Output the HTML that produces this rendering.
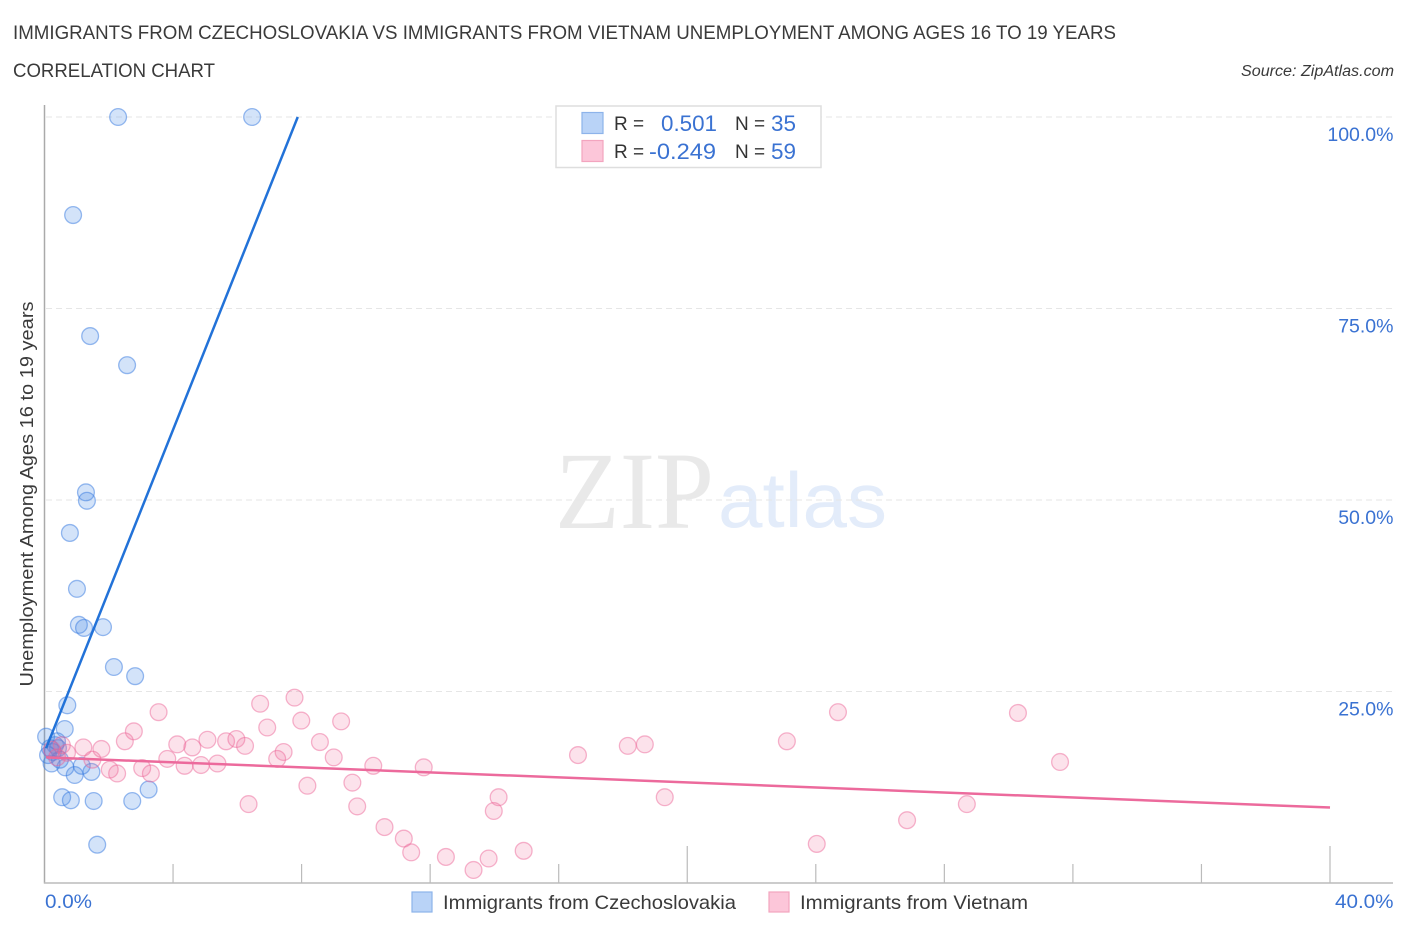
<!DOCTYPE html>
<html lang="en">
<head>
<meta charset="utf-8">
<title>Immigrants from Czechoslovakia vs Immigrants from Vietnam Unemployment Correlation Chart</title>
<style>
  html,body{margin:0;padding:0;background:#fff;width:1406px;height:930px;overflow:hidden}
  svg{display:block}
  text{font-family:"Liberation Sans",sans-serif}
</style>
</head>
<body>
<svg id="chart" width="1406" height="930" viewBox="0 0 1406 930" xmlns="http://www.w3.org/2000/svg">
  <rect x="0" y="0" width="1406" height="930" fill="#fff"/>
  <text x="13" y="39" font-size="19.5" fill="#3a3a3a" textLength="1103" lengthAdjust="spacingAndGlyphs">IMMIGRANTS FROM CZECHOSLOVAKIA VS IMMIGRANTS FROM VIETNAM UNEMPLOYMENT AMONG AGES 16 TO 19 YEARS</text>
  <text x="13" y="77" font-size="19.5" fill="#3a3a3a" textLength="202" lengthAdjust="spacingAndGlyphs">CORRELATION CHART</text>
  <text x="1241" y="76" font-size="15.5" font-style="italic" fill="#3a3a3a" textLength="153" lengthAdjust="spacingAndGlyphs">Source: ZipAtlas.com</text>

  <g>
    <text x="555" y="528" font-size="110" fill="#e9e9e9" textLength="159" lengthAdjust="spacingAndGlyphs" style="font-family:'Liberation Serif',serif">ZIP</text>
    <text x="718" y="527" font-size="78" fill="#e3ecfa" textLength="169" lengthAdjust="spacingAndGlyphs">atlas</text>
  </g>

  <g id="grid"></g>
  <g id="axes"></g>
  <g id="points"></g>
  <g id="trends"></g>

  <text transform="translate(33 494) rotate(-90)" text-anchor="middle" font-size="18.5" fill="#3a3a3a" textLength="385" lengthAdjust="spacingAndGlyphs">Unemployment Among Ages 16 to 19 years</text>

  <g>
    <rect x="556" y="106" width="265" height="61.5" fill="#fff" stroke="#dedede" stroke-width="1.5"/>
    <rect x="582" y="112.5" width="21" height="21" fill="#b9d3f7" stroke="#8db3ea" stroke-width="1.2"/>
    <rect x="582" y="140.5" width="21" height="21" fill="#fcc6d9" stroke="#f3a5bf" stroke-width="1.2"/>
    <text x="614" y="130" font-size="19" fill="#333">R =</text>
    <text x="661" y="131" font-size="22" fill="#3a72d2" textLength="56" lengthAdjust="spacingAndGlyphs">0.501</text>
    <text x="735" y="130" font-size="19" fill="#333">N =</text>
    <text x="771" y="131" font-size="22" fill="#3a72d2" textLength="25" lengthAdjust="spacingAndGlyphs">35</text>
    <text x="614" y="158" font-size="19" fill="#333">R =</text>
    <text x="649" y="159" font-size="22" fill="#3a72d2" textLength="67" lengthAdjust="spacingAndGlyphs">-0.249</text>
    <text x="735" y="158" font-size="19" fill="#333">N =</text>
    <text x="771" y="159" font-size="22" fill="#3a72d2" textLength="25" lengthAdjust="spacingAndGlyphs">59</text>
  </g>

  <g>
    <rect x="412" y="892" width="20" height="20" fill="#b9d3f7" stroke="#8db3ea" stroke-width="1.2"/>
    <text x="443" y="909" font-size="19.5" fill="#3a3a3a" textLength="293" lengthAdjust="spacingAndGlyphs">Immigrants from Czechoslovakia</text>
    <rect x="769" y="892" width="20" height="20" fill="#fcc6d9" stroke="#f3a5bf" stroke-width="1.2"/>
    <text x="800" y="909" font-size="19.5" fill="#3a3a3a" textLength="228" lengthAdjust="spacingAndGlyphs">Immigrants from Vietnam</text>
  </g>
</svg>

<script>
var yTickValues = [25, 50, 75, 100];
var yTickLabels = ['25.0%', '50.0%', '75.0%', '100.0%'];
var xTickValues = [4, 8, 12, 16, 20, 24, 28, 32, 36, 40];
var xMajorTicks = [20, 40];
var xEndLabels = ['0.0%', '40.0%'];

var czechX = [2.29, 6.46, 0.89, 1.42, 2.57, 1.29, 1.32, 0.79, 1.01, 1.07, 1.23, 1.82, 2.16, 2.82, 0.71, 0.63, 0.55, 0.82, 1.53, 2.73, 3.24, 1.64, 0.94, 1.46, 0.65, 1.16, 0.22, 0.05, 0.39, 0.17, 0.33, 0.11, 0.42, 0.26, 0.48];
var czechY = [100, 100, 87.2, 71.4, 67.6, 51.0, 49.9, 45.7, 38.4, 33.7, 33.3, 33.4, 28.2, 27.0, 23.2, 20.1, 11.2, 10.8, 10.7, 10.7, 12.2, 5.0, 14.1, 14.5, 15.1, 15.3, 15.6, 19.1, 18.5, 17.6, 18.0, 16.7, 17.6, 17.1, 16.1];

var vietnamX = [3.55, 2.78, 2.50, 1.21, 1.77, 1.49, 4.13, 4.60, 5.07, 5.65, 5.97, 6.24, 3.82, 4.36, 4.87, 5.38, 2.03, 2.26, 3.04, 3.31, 6.71, 7.78, 6.93, 7.99, 9.23, 8.57, 9.0, 7.44, 7.24, 8.18, 6.35, 10.23, 11.8, 9.58, 9.73, 10.58, 11.18, 11.41, 12.49, 13.35, 13.82, 14.91, 14.13, 13.98, 16.6, 18.15, 18.68, 19.3, 23.1, 24.69, 24.03, 26.84, 28.7, 30.29, 31.6, 0.54, 0.23, 0.39, 0.7];
var vietnamY = [22.3, 19.8, 18.5, 17.7, 17.5, 16.1, 18.1, 17.7, 18.7, 18.5, 18.8, 17.9, 16.2, 15.3, 15.4, 15.6, 14.8, 14.3, 15.0, 14.3, 23.4, 24.2, 20.3, 21.2, 21.1, 18.4, 16.4, 17.1, 16.2, 12.7, 10.3, 15.3, 15.1, 13.1, 10.0, 7.3, 5.8, 4.0, 3.4, 1.7, 3.2, 4.2, 11.2, 9.4, 16.7, 17.9, 18.1, 11.2, 18.5, 22.3, 5.1, 8.2, 10.3, 22.2, 15.8, 18.0, 17.4, 16.4, 17.0];

var czechTrendX = [0.05, 7.88];
var czechTrendY = [17.6, 100];
var vietnamTrendX = [0.05, 40];
var vietnamTrendY = [16.4, 9.85];

var NS = 'http://www.w3.org/2000/svg';
function xScale(v) { return 44.5 + v * (1330 - 44.5) / 40; }
function yScale(v) { return 883 - v * (883 - 117) / 100; }
function make(tag, attrs, parent) {
  var el = document.createElementNS(NS, tag);
  for (var k in attrs) { el.setAttribute(k, attrs[k]); }
  parent.appendChild(el);
  return el;
}

var gridG = document.getElementById('grid');
var axesG = document.getElementById('axes');
var pointsG = document.getElementById('points');
var trendsG = document.getElementById('trends');

yTickValues.forEach(function (v, i) {
  var line = make('line', { x1: 46, x2: 1393, y1: yScale(v), y2: yScale(v), stroke: '#e6e6e6', 'stroke-width': 1, 'stroke-dasharray': '6 4' }, gridG);
  
  
  var label = make('text', { x: 1393.5, y: yScale(v) + 24, 'text-anchor': 'end', 'font-size': 19.5, fill: '#3a72d2' }, axesG);
  label.textContent = yTickLabels[i];
  
  
});

var yAxis = make('line', { x1: 44.5, x2: 44.5, y1: 105, y2: 883.5, stroke: '#aaa', 'stroke-width': 1.5 }, axesG);


var xAxis = make('line', { x1: 44, x2: 1393, y1: 883, y2: 883, stroke: '#bbb', 'stroke-width': 1.5 }, axesG);



xTickValues.forEach(function (v) {
  var top = xMajorTicks.indexOf(v) >= 0 ? 846 : 864;
  var tick = make('line', { x1: xScale(v), x2: xScale(v), y1: top, y2: 883, stroke: '#bbb', 'stroke-width': 1.2 }, axesG);
  
  
});

var xLabelLeft = make('text', { x: 45, y: 908, 'font-size': 19.5, fill: '#3a72d2', textLength: 47, lengthAdjust: 'spacingAndGlyphs' }, axesG);
xLabelLeft.textContent = xEndLabels[0];


var xLabelRight = make('text', { x: 1335, y: 908, 'font-size': 19.5, fill: '#3a72d2', textLength: 58.5, lengthAdjust: 'spacingAndGlyphs' }, axesG);
xLabelRight.textContent = xEndLabels[1];



czechX.forEach(function (v, i) {
  var c = make('circle', { cx: xScale(v), cy: yScale(czechY[i]), r: 8.4, fill: 'rgba(72,136,232,0.24)', stroke: 'rgba(60,125,225,0.52)', 'stroke-width': 1.3 }, pointsG);
  
  
});
vietnamX.forEach(function (v, i) {
  var c = make('circle', { cx: xScale(v), cy: yScale(vietnamY[i]), r: 8.4, fill: 'rgba(240,110,155,0.2)', stroke: 'rgba(236,100,150,0.48)', 'stroke-width': 1.3 }, pointsG);
  
  
});

var czechTrend = make('line', { x1: xScale(czechTrendX[0]), y1: yScale(czechTrendY[0]), x2: xScale(czechTrendX[1]), y2: yScale(czechTrendY[1]), stroke: '#2272d8', 'stroke-width': 2.5 }, trendsG);


var vietnamTrend = make('line', { x1: xScale(vietnamTrendX[0]), y1: yScale(vietnamTrendY[0]), x2: xScale(vietnamTrendX[1]), y2: yScale(vietnamTrendY[1]), stroke: '#ec6a9c', 'stroke-width': 2.5 }, trendsG);


</script>
</body>
</html>
